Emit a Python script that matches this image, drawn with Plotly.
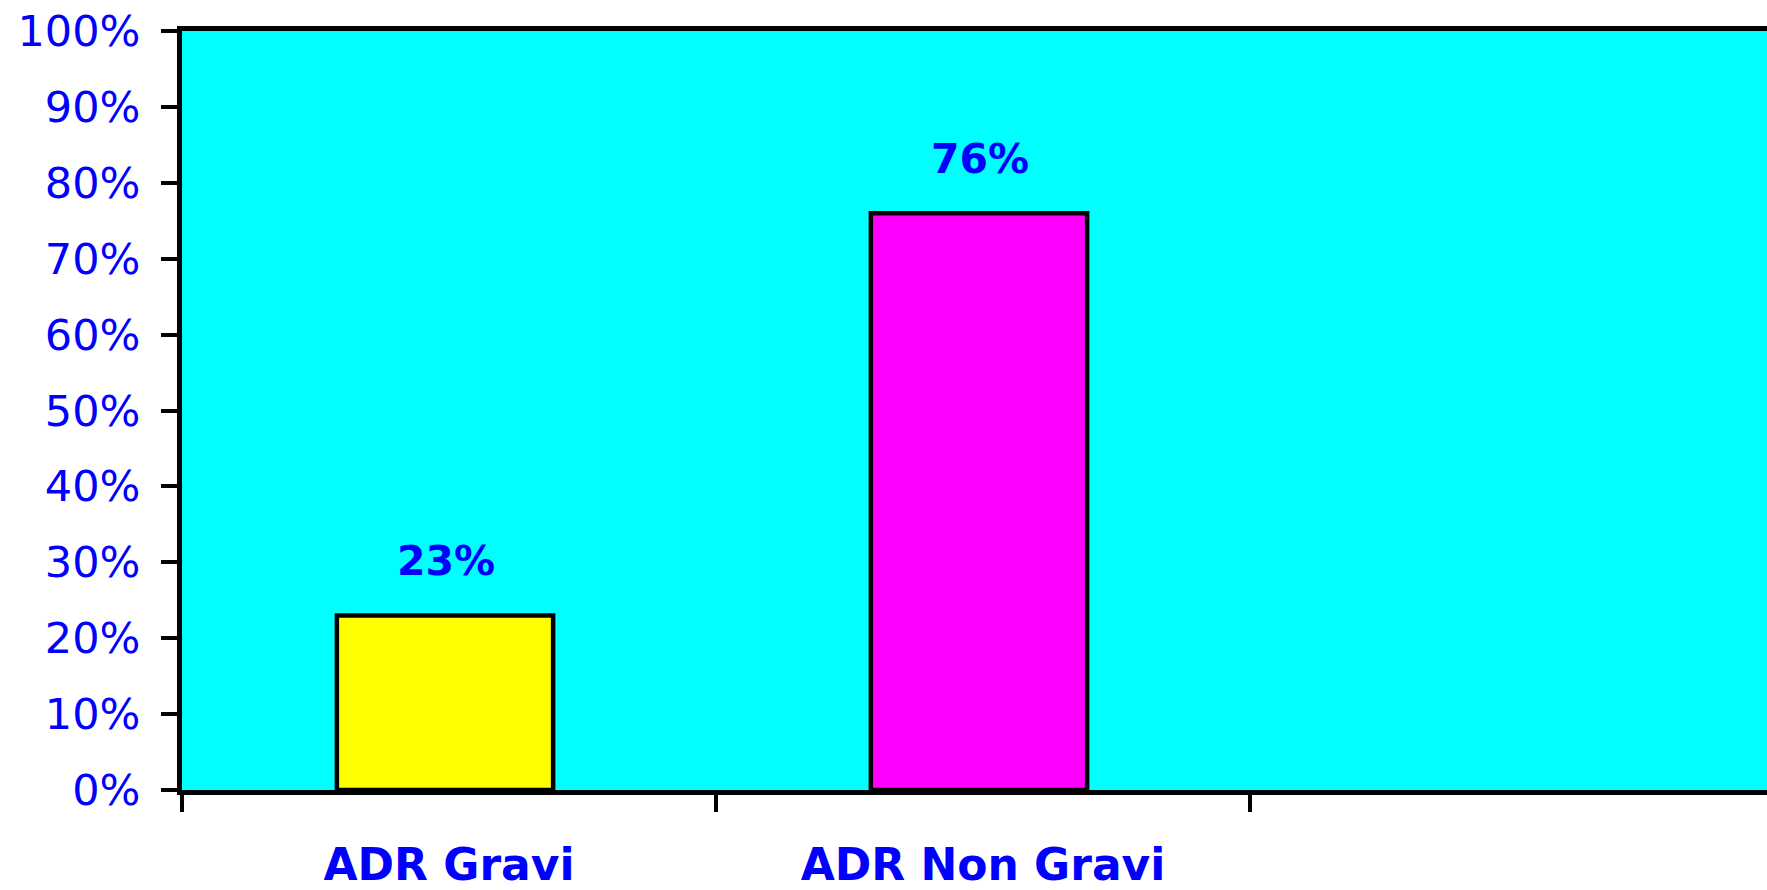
import plotly.graph_objects as go

# Share of adverse drug reactions by severity
categories = ["ADR Gravi", "ADR Non Gravi", " "]
shares = [0.23, 0.76, None]
bar_colors = ["#FFFF00", "#FF00FF", "#FFFFFF"]
y_ticks = [i / 10 for i in range(11)]
y_tick_labels = [f"{i * 10}%" for i in range(11)]

BLUE = "#0000FF"
FONT = "DejaVu Sans"
PLOT_LEFT = 182
CATEGORY_PX = 534

fig = go.Figure()
fig.add_trace(
    go.Bar(
        x=categories,
        y=shares,
        width=0.405,
        offset=-0.21,
        marker=dict(color=bar_colors, line=dict(color="black", width=4.5)),
        hoverinfo="skip",
    )
)

# Percentage labels above each bar
for cat, val in zip(categories, shares):
    if val is None:
        continue
    fig.add_annotation(
        x=cat,
        y=val,
        text=f"<b>{round(val * 100)}%</b>",
        showarrow=False,
        xshift=-3,
        yanchor="middle",
        yshift=54,
        font=dict(family=FONT, size=41, color=BLUE),
    )

fig.update_layout(
    width=1767,
    height=890,
    margin=dict(l=PLOT_LEFT, r=0, t=31, b=100, autoexpand=False),
    paper_bgcolor="white",
    plot_bgcolor="#00FFFF",
    showlegend=False,
)

fig.update_xaxes(
    type="category",
    categoryorder="array",
    categoryarray=categories,
    range=[-0.5, -0.5 + (1767 - PLOT_LEFT) / CATEGORY_PX],
    tickson="boundaries",
    ticks="outside",
    ticklen=17,
    tickwidth=4,
    tickcolor="black",
    showline=True,
    linecolor="black",
    linewidth=5,
    mirror=True,
    showgrid=False,
    automargin=False,
    tickvals=categories[:2],
    ticktext=[f"<b>{c}</b>" for c in categories[:2]],
    tickfont=dict(family=FONT, size=44, color=BLUE),
    ticklabelstandoff=32,
)

fig.update_yaxes(
    range=[0, 1],
    tickvals=y_ticks,
    ticktext=y_tick_labels,
    ticks="outside",
    ticklen=16,
    tickwidth=4,
    tickcolor="black",
    showline=True,
    linecolor="black",
    linewidth=5,
    showgrid=False,
    zeroline=False,
    automargin=False,
    tickfont=dict(family=FONT, size=43, color=BLUE),
    ticklabelstandoff=12,
)

fig.write_html("out.html")
